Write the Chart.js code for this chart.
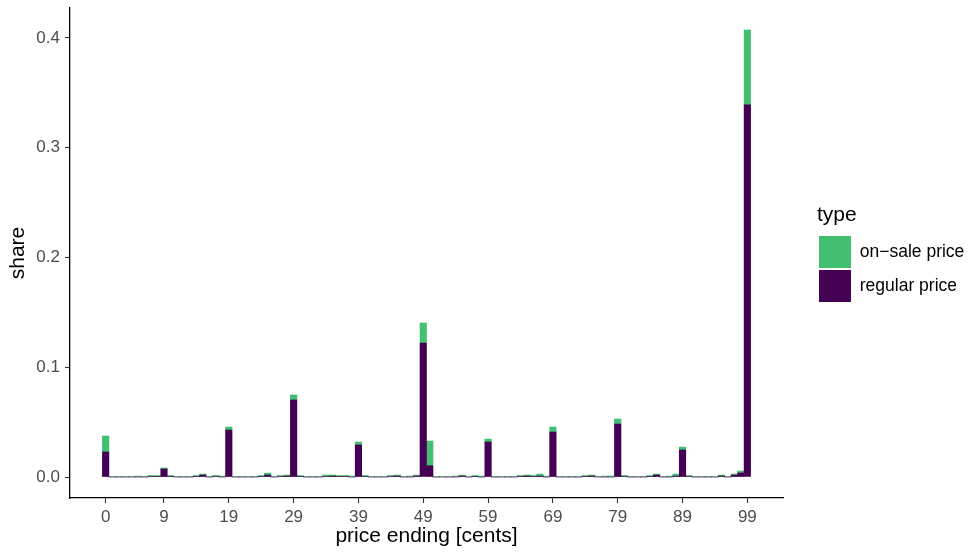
<!DOCTYPE html>
<html>
<head>
<meta charset="utf-8">
<script src="https://cdn.jsdelivr.net/npm/chart.js@4"></script>
<style>
  html, body { margin: 0; padding: 0; background: #fff; }
  #chart { display: block; }
</style>
</head>
<body>
<canvas id="chart" width="970" height="554"></canvas>
<script>
// price endings in cents (x categories)
const priceEndings = [
   0,  1,  2,  3,  4,  5,  6,  7,  8,  9, 10, 11, 12, 13, 14, 15, 16, 17, 18, 19,
  20, 21, 22, 23, 24, 25, 26, 27, 28, 29, 30, 31, 32, 33, 34, 35, 36, 37, 38, 39,
  40, 41, 42, 43, 44, 45, 46, 47, 48, 49, 50, 51, 52, 53, 54, 55, 56, 57, 58, 59,
  60, 61, 62, 63, 64, 65, 66, 67, 68, 69, 70, 71, 72, 73, 74, 75, 76, 77, 78, 79,
  80, 81, 82, 83, 84, 85, 86, 87, 88, 89, 90, 91, 92, 93, 94, 95, 96, 97, 98, 99
];

// share of regular prices per ending
const regularShare = [
  0.0228, 0, 0, 0, 0, 0, 0, 0.0005, 0.0005, 0.0073,
  0.0005, 0, 0, 0, 0.0005, 0.0018, 0, 0.0005, 0, 0.0428,
  0, 0, 0, 0, 0.0005, 0.0018, 0, 0.0005, 0.0009, 0.0702,
  0.0005, 0, 0, 0, 0.0005, 0.0009, 0.0005, 0.0005, 0, 0.0292,
  0.0005, 0, 0, 0, 0.0005, 0.0009, 0, 0, 0.0009, 0.1221,
  0.0103, 0, 0, 0, 0, 0.0009, 0, 0.0005, 0, 0.0319,
  0, 0, 0, 0, 0.0005, 0.0009, 0.0005, 0.0009, 0, 0.0410,
  0, 0, 0, 0, 0.0005, 0.0009, 0, 0, 0, 0.0483,
  0.0005, 0, 0, 0, 0.0005, 0.0018, 0, 0, 0.0009, 0.0246,
  0.0005, 0, 0, 0, 0, 0.0009, 0, 0.0018, 0.0037, 0.3390
];

// share of on-sale prices per ending
const saleShare = [
  0.0146, 0.0005, 0.0005, 0.0005, 0.0005, 0.0009, 0.0005, 0.0009, 0.0009, 0.0009,
  0.0009, 0.0005, 0.0005, 0.0005, 0.0009, 0.0009, 0.0005, 0.0009, 0.0009, 0.0027,
  0.0005, 0.0005, 0.0005, 0.0005, 0.0009, 0.0018, 0.0005, 0.0009, 0.0009, 0.0046,
  0.0009, 0.0005, 0.0005, 0.0005, 0.0014, 0.0009, 0.0009, 0.0009, 0.0009, 0.0027,
  0.0009, 0.0005, 0.0005, 0.0005, 0.0009, 0.0009, 0.0005, 0.0009, 0.0009, 0.0182,
  0.0225, 0.0005, 0.0005, 0.0005, 0.0009, 0.0009, 0.0005, 0.0009, 0.0009, 0.0027,
  0.0005, 0.0005, 0.0005, 0.0005, 0.0009, 0.0009, 0.0009, 0.0018, 0.0009, 0.0046,
  0.0005, 0.0005, 0.0005, 0.0005, 0.0009, 0.0009, 0.0005, 0.0009, 0.0009, 0.0046,
  0.0009, 0.0005, 0.0005, 0.0005, 0.0009, 0.0009, 0.0005, 0.0009, 0.0018, 0.0027,
  0.0009, 0.0005, 0.0005, 0.0005, 0.0005, 0.0009, 0.0005, 0.0009, 0.0018, 0.0683
];

const xTicks = [0, 9, 19, 29, 39, 49, 59, 69, 79, 89, 99];
const yTicks = [0, 0.1, 0.2, 0.3, 0.4];

Chart.defaults.font.family = "'Liberation Sans', Arial, Helvetica, sans-serif";

// ggplot puts the legend a bit away from the panel
const legendGap = {
  id: 'legendGap',
  afterLayout(chart) {
    const lg = chart.legend;
    const w = lg.width;
    lg.left = chart.chartArea.right + 34;
    lg.right = lg.left + w;
  }
};

const chart = new Chart(document.getElementById('chart'), {
  type: 'bar',
  data: {
    labels: priceEndings,
    datasets: [
      { label: 'regular price', data: regularShare, backgroundColor: '#440154' },
      { label: 'on\u2212sale price', data: saleShare, backgroundColor: '#43BF71' }
    ]
  },
  options: {
    responsive: false,
    animation: false,
    events: [],
    datasets: { bar: { barPercentage: 1, categoryPercentage: 1, borderWidth: 0 } },
    layout: { padding: { left: 6, top: 8, bottom: 5, right: 33 } },
    plugins: {
      tooltip: { enabled: false },
      legend: {
        position: 'right',
        fullSize: false,
        reverse: true,
        title: {
          display: true,
          text: 'type',
          position: 'start',
          color: '#000',
          font: { size: 21 },
          padding: { top: 3, bottom: 3.8 }
        },
        labels: {
          boxWidth: 32,
          boxHeight: 32,
          padding: 2,
          color: '#000',
          font: { size: 17.5 }
        }
      }
    },
    scales: {
      x: {
        type: 'linear',
        stacked: true,
        offset: false,
        min: -5.5,
        max: 104.5,
        afterBuildTicks: s => { s.ticks = xTicks.map(v => ({ value: v })); },
        afterFit: s => { s.height = 51; s.paddingLeft = 0; s.paddingRight = 0; },
        ticks: {
          autoSkip: false,
          maxRotation: 0,
          padding: 4,
          color: '#4D4D4D',
          font: { size: 17 },
          callback: v => String(v)
        },
        grid: { offset: false, drawOnChartArea: false, tickLength: 5, color: '#333', tickWidth: 1.1 },
        border: { color: '#000', width: 1.3 },
        title: {
          display: true,
          text: 'price ending [cents]',
          color: '#000',
          font: { size: 21 },
          padding: 0
        }
      },
      y: {
        stacked: true,
        min: -0.0191,
        max: 0.4273,
        afterBuildTicks: s => { s.ticks = yTicks.map(v => ({ value: v })); },
        afterFit: s => { s.width = 64; s.paddingTop = 0; s.paddingBottom = 0; },
        ticks: {
          padding: 5,
          color: '#4D4D4D',
          font: { size: 17 },
          callback: v => v.toFixed(1)
        },
        grid: { drawOnChartArea: false, tickLength: 5, color: '#333', tickWidth: 1.1 },
        border: { color: '#000', width: 1.3 },
        title: {
          display: true,
          text: 'share',
          color: '#000',
          font: { size: 21 },
          padding: 0
        }
      }
    }
  },
  plugins: [legendGap]
});

// make the panel end at the same place whatever the legend width is
chart.options.layout.padding.right = 187 - chart.legend.width;
chart.update();
</script>
</body>
</html>
